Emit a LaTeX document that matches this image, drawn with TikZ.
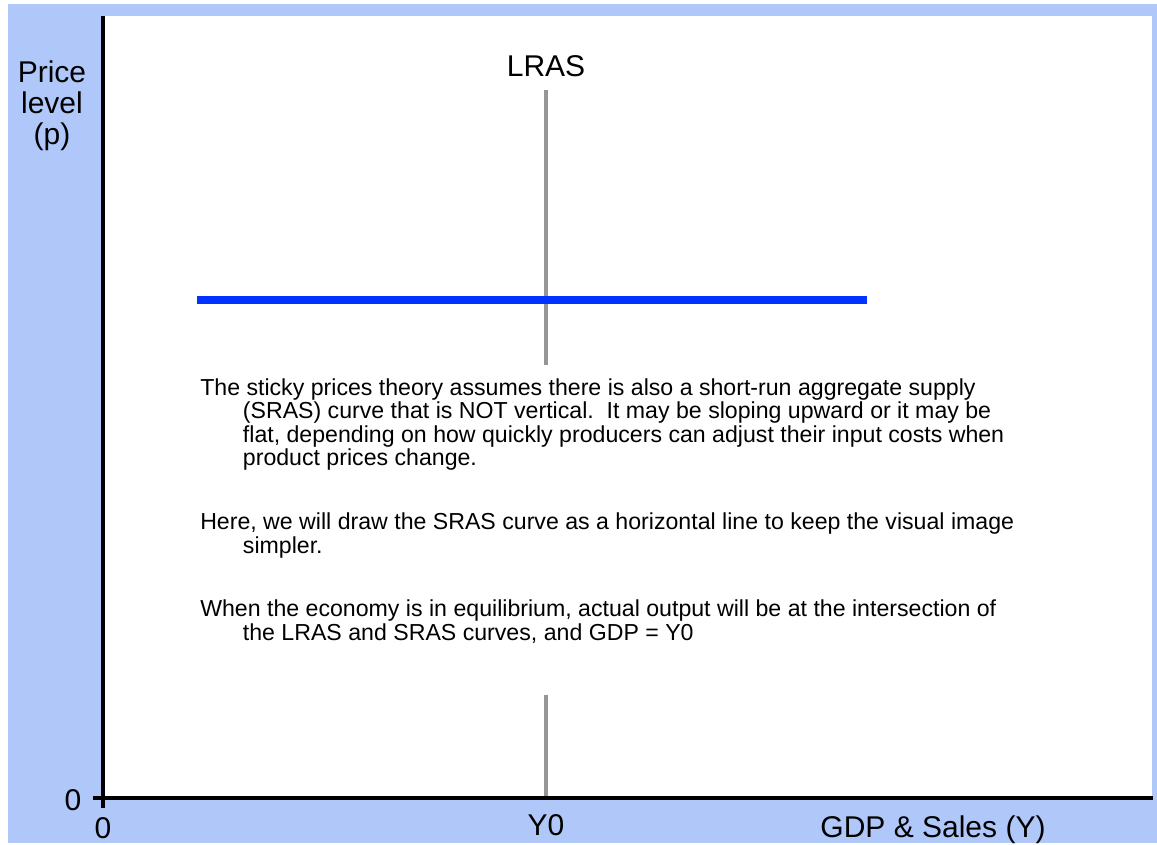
\documentclass[tikz,border=0pt]{standalone}
\usepackage{fontspec}
\setmainfont{Liberation Sans}
\definecolor{bgblue}{RGB}{175,200,249}
\definecolor{srasblue}{RGB}{0,51,255}
\definecolor{lrasgray}{RGB}{150,150,150}

\begin{document}
\begin{tikzpicture}[x=0.75pt, y=-0.75pt,
    axislabel/.style={font=\fontsize{22.5}{23.3}\selectfont, inner sep=0pt},
    notetext/.style={font=\fontsize{17.35}{17.7}\selectfont, align=left, inner sep=0pt, anchor=north west}]
    \useasboundingbox (0,0) rectangle (1157,845);
    \fill[white] (0,0) rectangle (1157,845);
    \fill[bgblue] (8,4) rectangle (1157,843);
    \fill[white] (103,16) rectangle (1152,798);

    \coordinate (O) at (103,798);
    \coordinate (Ytop) at (103,16);
    \coordinate (Xend) at (1153,798);
    \coordinate (tickY) at (93,798);
    \coordinate (tickX) at (103,808);
    \coordinate (LRAStop) at (546,90);
    \coordinate (LRASbot) at (546,798);
    \coordinate (SRASl) at (197,300);
    \coordinate (SRASr) at (867,300);

    \draw[color=lrasgray, line width=3.4pt] (LRAStop) -- (LRASbot);
    \draw[color=srasblue, line width=6pt] (SRASl) -- (SRASr);

    % le texte cache le bas de la LRAS
    \fill[white] (190,365) rectangle (1025,695);
    \node[notetext] (note) at (200,378) {The sticky prices theory assumes there is also a short-run aggregate supply\\
        \hspace*{32pt}(SRAS) curve that is NOT vertical.\ \ It may be sloping upward or it may be\\
        \hspace*{32pt}flat, depending on how quickly producers can adjust their input costs when\\
        \hspace*{32pt}product prices change.\\[30pt]
        Here, we will draw the SRAS curve as a horizontal line to keep the visual image\\
        \hspace*{32pt}simpler.\\[30pt]
        When the economy is in equilibrium, actual output will be at the intersection of\\
        \hspace*{32pt}the LRAS and SRAS curves, and GDP = Y0};

    \draw[line width=2.6pt] (Ytop) -- (tickX);
    \draw[line width=2.6pt] (tickY) -- (Xend);

    \node[axislabel, align=center] (price) at (52,106) {Price\\level\\(p)};
    \node[axislabel, anchor=base] (lras) at (546,77) {LRAS};
    \node[axislabel, anchor=base] (zeroY) at (73,810) {0};
    \node[axislabel, anchor=base] (zeroX) at (103,838) {0};
    \node[axislabel, anchor=base] (y0) at (546,835) {Y0};
    \node[axislabel, anchor=base] (gdp) at (933,837) {GDP \& Sales (Y)};
\end{tikzpicture}
\end{document}
